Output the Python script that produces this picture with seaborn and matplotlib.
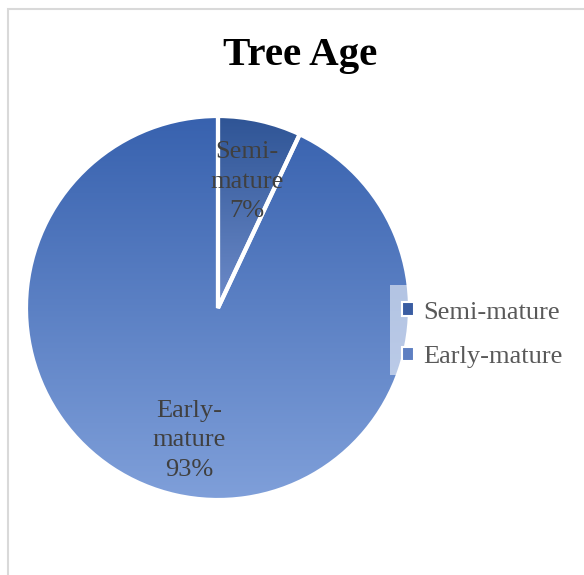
import numpy as np
import matplotlib
matplotlib.use("Agg")
import matplotlib.pyplot as plt
from matplotlib.patches import Rectangle
import seaborn as sns

# data
categories = ["Semi-mature", "Early-mature"]
shares = [7, 93]
slice_labels = ["Semi-\nmature\n7%", "Early-\nmature\n93%"]
title = "Tree Age"

# vertical gradient (top, bottom) for each slice
gradients = [("#2D5394", "#6F8DCB"), ("#3761AE", "#80A0DA")]
legend_colors = ["#3A5DA2", "#5E7FC2"]

sns.set_theme(style="white")
plt.rcParams["font.family"] = ["Liberation Serif", "DejaVu Serif"]

W, H = 584, 575
fig = plt.figure(figsize=(W / 100, H / 100), dpi=100)
fig.patch.set_facecolor("white")

# outer chart border
fig.add_artist(Rectangle((8 / W, -0.02), 1.1, (H - 9) / H + 0.02,
                         transform=fig.transFigure, fill=False,
                         edgecolor="#d9d9d9", linewidth=1.5, zorder=0.5))

# pie axes: centre at (218, 308) px, radius 192 px
R = 192
L = 1.03
cx, cy = 218, H - 308
ax = fig.add_axes([(cx - L * R) / W, (cy - L * R) / H, 2 * L * R / W, 2 * L * R / H])
ax.set_facecolor("none")

wedges, _ = ax.pie(shares, startangle=90, counterclock=False, radius=1,
                   wedgeprops=dict(linewidth=3, edgecolor="white", facecolor="none"))

ramp = np.linspace(0, 1, 256).reshape(-1, 1)
for w, (top, bot) in zip(wedges, gradients):
    w.set_zorder(3)
    cmap = sns.blend_palette([top, bot], as_cmap=True)
    bb = w.get_path().get_extents()
    im = ax.imshow(ramp, cmap=cmap, origin="upper", aspect="auto",
                   extent=(bb.x0 - 0.02, bb.x1 + 0.02, bb.y0 - 0.02, bb.y1 + 0.02),
                   zorder=2, interpolation="bilinear")
    im.set_clip_path(w)

for w, txt in zip(wedges, slice_labels):
    mid = np.deg2rad((w.theta1 + w.theta2) / 2)
    ax.text(0.69 * np.cos(mid), 0.69 * np.sin(mid) - 0.015, txt,
            ha="center", va="center", fontsize=19, color="#404040",
            linespacing=1.45, zorder=4)

ax.set_xlim(-L, L)
ax.set_ylim(-L, L)
ax.set_aspect("equal")
ax.axis("off")

fig.text(300 / W, 1 - 55 / H, title, ha="center", va="center",
         fontsize=29.5, fontweight="bold", color="black")

# legend background panel
fig.add_artist(Rectangle((390 / W, 1 - 375 / H), 190 / W, 90 / H,
                         transform=fig.transFigure, facecolor="white",
                         edgecolor="none", alpha=0.55, zorder=1))

handles = [Rectangle((0, 0), 1, 1, facecolor=c, edgecolor="white", linewidth=1.5)
           for c in legend_colors]
fig.legend(handles, categories, loc="center left",
           bbox_to_anchor=(402 / W, 1 - 335 / H), frameon=False,
           fontsize=19, labelcolor="#595959", handlelength=0.45,
           handleheight=0.45, handletextpad=0.35, labelspacing=0.85,
           borderpad=0, borderaxespad=0)

fig.savefig("out.png", dpi=100, facecolor="white")
